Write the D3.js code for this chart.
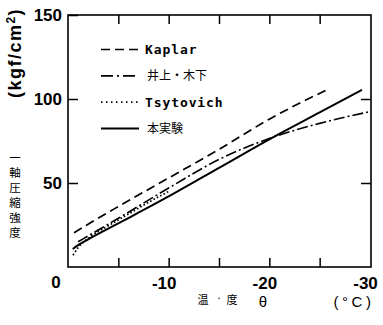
<!DOCTYPE html>
<html>
<head>
<meta charset="utf-8">
<script src="https://cdn.jsdelivr.net/npm/d3@7"></script>
<style>
  html, body { margin: 0; padding: 0; background: #fff; }
  svg { display: block; }
  text { fill: #000; }
</style>
</head>
<body>
<svg id="chart" width="383" height="325"></svg>
<script>
// Uniaxial compressive strength of frozen soil vs. temperature
const kaplarT = [-0.6, -2, -5, -10, -15, -20, -25.9];
const kaplarV = [20.4, 25.5, 36, 53, 70, 88, 106];

const inoueT = [-1, -2, -5, -10, -15, -20, -25, -30];
const inoueV = [15, 18.5, 29, 47, 64, 76.5, 85.5, 92.5];

const tsyT = [-0.5, -1, -2, -4, -6, -8, -10];
const tsyV = [7, 11.5, 17, 24.5, 31.5, 38.5, 45];

const expT = [-0.47, -1, -2, -5, -10, -15, -20, -25, -29.2];
const expV = [10.7, 13, 16.5, 26, 42, 59, 76, 92, 105.4];

const yTicks = [50, 100, 150];
const xLabelTicks = [-10, -20, -30];
const xMinorTicks = [-5, -10, -15, -20, -25];

const seriesNames = ["Kaplar", "井上・木下", "Tsytovich", "本実験"];

const svg = d3.select("#chart");
const L = 68, R = 370, T = 15, B = 267;

const x = d3.scaleLinear().domain([0, -30]).range([L, R]);
const y = d3.scaleLinear().domain([0, 150]).range([B, T]);

const font = "'Liberation Sans', Arial, sans-serif";
const mono = "'DejaVu Sans Mono', 'Liberation Mono', monospace";
const cjk = "'Noto Sans CJK JP', 'Noto Sans CJK SC', sans-serif";

// frame
svg.append("rect")
  .attr("x", L).attr("y", T)
  .attr("width", R - L + 1).attr("height", B - T)
  .attr("fill", "none").attr("stroke", "#000").attr("stroke-width", 1.6);

// inward ticks on all four sides
const leftAxis = svg.append("g").attr("transform", `translate(${L},0)`)
  .call(d3.axisLeft(y).tickValues(yTicks).tickSize(-10).tickPadding(6));
leftAxis.select(".domain").remove();
leftAxis.selectAll("line").attr("stroke-width", 1.5);
leftAxis.selectAll("text")
  .style("font-family", font).style("font-size", "17px").style("font-weight", "bold");

const rightAxis = svg.append("g").attr("transform", `translate(${R + 1},0)`)
  .call(d3.axisRight(y).tickValues([50, 100]).tickSize(-10).tickFormat(""));
rightAxis.select(".domain").remove();
rightAxis.selectAll("line").attr("stroke-width", 1.5);

const bottomAxis = svg.append("g").attr("transform", `translate(0,${B})`)
  .call(d3.axisBottom(x).tickValues(xMinorTicks).tickSize(-9).tickFormat(""));
bottomAxis.select(".domain").remove();
bottomAxis.selectAll("line").attr("stroke-width", 1.5);

const topAxis = svg.append("g").attr("transform", `translate(0,${T})`)
  .call(d3.axisTop(x).tickValues(xMinorTicks).tickSize(-9).tickFormat(""));
topAxis.select(".domain").remove();
topAxis.selectAll("line").attr("stroke-width", 1.5);

// x tick labels: digits centred on the tick, minus sign hanging left
const xLab = svg.append("g").attr("transform", `translate(0,${B})`)
  .call(d3.axisBottom(x).tickValues(xLabelTicks).tickSize(0).tickPadding(10)
    .tickFormat(d => "-" + Math.abs(d)));
xLab.select(".domain").remove();
xLab.selectAll("text")
  .attr("dx", -5)
  .style("font-family", font).style("font-size", "17px").style("font-weight", "bold");

// origin label
svg.append("text")
  .attr("x", x(0) - 12).attr("y", y(0) + 15)
  .attr("dy", "0.35em").attr("text-anchor", "middle")
  .style("font-family", font).style("font-size", "17px").style("font-weight", "bold")
  .text("0");

// y axis titles
svg.append("text")
  .attr("transform", "translate(21,53) rotate(-90)")
  .attr("text-anchor", "middle")
  .style("font-family", font).style("font-size", "18px").style("font-weight", "bold")
  .style("letter-spacing", "1.5px")
  .html("(kgf/cm<tspan dy='-6' font-size='12px'>2</tspan><tspan dy='6'>)</tspan>");

svg.append("text")
  .attr("x", 15).attr("y", 152)
  .style("writing-mode", "vertical-rl")
  .style("font-family", cjk).style("font-size", "11.5px")
  .style("letter-spacing", "3.5px")
  .text("一軸圧縮強度");

// x axis title
const xt = svg.append("g").style("font-family", cjk);
xt.append("text").attr("x", 203).attr("y", 304).attr("text-anchor", "middle")
  .style("font-size", "11px").text("温");
xt.append("text").attr("x", 219).attr("y", 302).attr("text-anchor", "middle")
  .style("font-size", "10px").text("·");
xt.append("text").attr("x", 232).attr("y", 304).attr("text-anchor", "middle")
  .style("font-size", "11px").text("度");
svg.append("text").attr("x", 263).attr("y", 307).attr("text-anchor", "middle")
  .style("font-family", font).style("font-size", "15px").text("θ");
svg.append("text").attr("x", 354).attr("y", 307).attr("text-anchor", "middle")
  .style("font-family", font).style("font-size", "15px").style("letter-spacing", "3.5px")
  .text("(°C)");

// curves
const styles = [
  { t: kaplarT, v: kaplarV, dash: "9,5", w: 1.7 },
  { t: inoueT, v: inoueV, dash: "11,3,2,3", w: 1.6 },
  { t: tsyT, v: tsyV, dash: "1.6,2.2", w: 1.7 },
  { t: expT, v: expV, dash: null, w: 2 }
];

const line = d3.line().x(d => x(d[0])).y(d => y(d[1])).curve(d3.curveMonotoneX);

styles.forEach(s => {
  svg.append("path")
    .datum(s.t.map((t, i) => [t, s.v[i]]))
    .attr("d", line)
    .attr("fill", "none").attr("stroke", "#000")
    .attr("stroke-width", s.w)
    .attr("stroke-dasharray", s.dash);
});

// legend
const legendDash = ["9,5", "12,4,2,4", "1.5,3.5", null];
const leg = svg.append("g");
seriesNames.forEach((name, i) => {
  const yy = 49.5 + i * 26.3;
  leg.append("line")
    .attr("x1", 101).attr("x2", 139).attr("y1", yy).attr("y2", yy)
    .attr("stroke", "#000").attr("stroke-width", i === 3 ? 2 : 1.7)
    .attr("stroke-dasharray", legendDash[i]);
  const latin = /^[A-Za-z]+$/.test(name);
  leg.append("text")
    .attr("x", latin ? 145 : 147).attr("y", yy).attr("dy", "0.35em")
    .style("font-family", latin ? mono : cjk)
    .style("font-size", latin ? "13px" : "12px")
    .style("font-weight", latin ? "bold" : "normal")
    .style("letter-spacing", latin ? "0.9px" : "0px")
    .text(name);
});
</script>
</body>
</html>
